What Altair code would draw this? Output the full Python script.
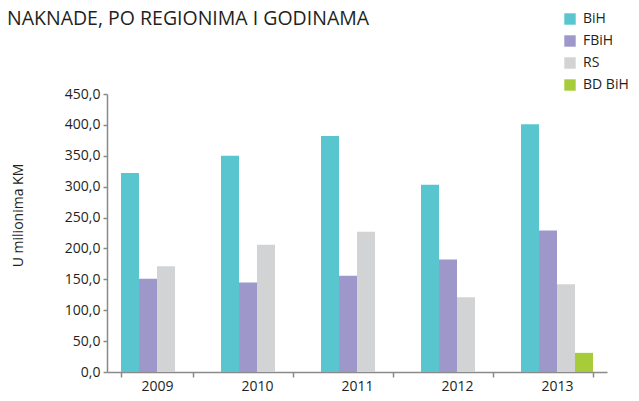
import altair as alt
import pandas as pd

years = ["2009", "2010", "2011", "2012", "2013"]
regions = ["BiH", "FBiH", "RS", "BD BiH"]
bih = [322, 350, 382, 303, 401]
fbih = [151, 145, 156, 182, 229]
rs = [171, 206, 227, 121, 142]
bdbih = [None, None, None, None, 31]
colors = ["#58c5cf", "#9e97c9", "#d2d3d5", "#a6cd39"]
title_text = "NAKNADE, PO REGIONIMA I GODINAMA"

rows = []
for i, y in enumerate(years):
    for r, vals in zip(regions, [bih, fbih, rs, bdbih]):
        if vals[i] is not None:
            rows.append({"Godina": y, "Region": r, "Iznos": vals[i]})
df = pd.DataFrame(rows)

font = "Open Sans"
txt = "#231f20"
axc = "#8a8a8a"

bars = alt.Chart(df).mark_bar().encode(
    x=alt.X("Godina:N", sort=years,
            scale=alt.Scale(paddingInner=0.28, paddingOuter=0.14),
            axis=alt.Axis(title=None, labelAngle=0, tickBand="extent",
                          labelFontSize=14, labelColor=txt, labelFont=font,
                          domainColor=axc, tickColor=axc,
                          domainWidth=1.5, tickWidth=1.5, tickSize=5,
                          labelPadding=2)),
    xOffset=alt.XOffset("Region:N", sort=regions,
                        scale=alt.Scale(domain=regions, paddingInner=0, paddingOuter=0)),
    y=alt.Y("Iznos:Q", scale=alt.Scale(domain=[0, 450]),
            axis=alt.Axis(title="U milionima KM", values=list(range(0, 451, 50)),
                          labelExpr="replace(format(datum.value, '.1f'), '.', ',')",
                          grid=False, labelFontSize=14, labelColor=txt, labelFont=font,
                          titleFont=font, titleFontSize=14, titleFontWeight="normal",
                          titleColor=txt, titleX=-89, titleY=121, titleAngle=-90,
                          titleAlign="center", titleBaseline="middle",
                          domainColor=axc, tickColor=axc,
                          domainWidth=1.5, tickWidth=1.5, tickSize=4, labelPadding=3)),
    color=alt.Color("Region:N", sort=regions,
                    scale=alt.Scale(domain=regions, range=colors),
                    legend=alt.Legend(title=None, orient="none", legendX=456, legendY=-82,
                                      symbolType="square", symbolSize=130,
                                      symbolStrokeWidth=0, labelFontSize=14,
                                      labelFont=font, labelColor=txt, rowPadding=8,
                                      padding=0, labelOffset=6)),
)

title = alt.Chart(pd.DataFrame({"t": [title_text]})).mark_text(
    align="left", baseline="top", fontSize=19.5, font=font, color=txt
).encode(text="t:N", x=alt.value(-100), y=alt.value(-84))

chart = alt.layer(bars, title).properties(
    width=500, height=278,
    autosize=alt.AutoSizeParams(type="none"),
    padding={"left": 99, "top": 86, "right": 24, "bottom": 21},
).configure_view(stroke=None)

chart.save("out.html", embed_options={"renderer": "svg", "actions": False})
